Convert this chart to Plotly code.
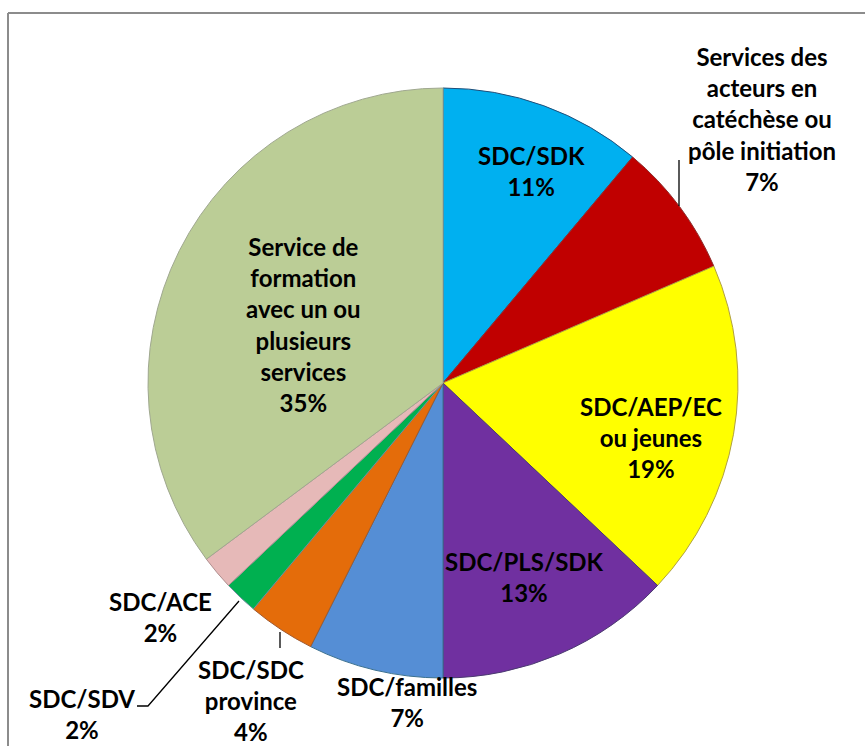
import plotly.graph_objects as go

labels = [
    "SDC/SDK",
    "Services des<br>acteurs en<br>catéchèse ou<br>pôle initiation",
    "SDC/AEP/EC<br>ou jeunes",
    "SDC/PLS/SDK",
    "SDC/familles",
    "SDC/SDC<br>province",
    "SDC/SDV",
    "SDC/ACE",
    "Service de<br>formation<br>avec un ou<br>plusieurs<br>services",
]
values = [6, 4, 10, 7, 4, 2, 1, 1, 19]
colors = ["#00B0F0", "#C00000", "#FFFF00", "#7030A0", "#558ED5",
          "#E46C0A", "#00B050", "#E6B9B8", "#BBCD96"]
line_colors = ["#1F4E79", "#8E3030", "#B0A040", "#4A3A70", "#3A7090",
               "#A05A30", "#7090A0", "#B09090", "#A0A890"]

W, H = 865, 746
cx, cy, r = 443, 383, 295

def px(x):
    return x / W

def py(y):
    return 1 - y / H

fig = go.Figure(go.Pie(
    labels=labels,
    values=values,
    sort=False,
    direction="clockwise",
    rotation=0,
    textinfo="none",
    hoverinfo="label+percent",
    marker=dict(colors=colors, line=dict(color=line_colors, width=1)),
    domain=dict(x=[px(cx - r), px(cx + r)], y=[py(cy + r), py(cy - r)]),
    showlegend=False,
))

total = sum(values)
pcts = [round(v / total * 100) for v in values]

# label centres (pixels)
label_pos = [
    (531, 171),
    (762, 119),
    (651, 438),
    (524, 577),
    (407, 702),
    (251, 700),
    (82, 714),
    (160, 617),
    (303, 325),
]

annotations = []
for lab, p, (x, y) in zip(labels, pcts, label_pos):
    annotations.append(dict(
        x=px(x), y=py(y), xref="paper", yref="paper",
        text=f"{lab}<br>{p}%", showarrow=False,
        xanchor="center", yanchor="middle", align="center",
        font=dict(family="Lato", size=24, color="black", weight="bold"),
    ))

shapes = [
    # frame
    dict(type="line", xref="paper", yref="paper", x0=px(8), x1=1.01, y0=py(13), y1=py(13),
         line=dict(color="#8C8C8C", width=2)),
    dict(type="line", xref="paper", yref="paper", x0=px(8), x1=px(8), y0=py(13), y1=-0.01,
         line=dict(color="#8C8C8C", width=2)),
    # leader lines
    dict(type="line", xref="paper", yref="paper", x0=px(679), x1=px(679), y0=py(160), y1=py(206),
         line=dict(color="black", width=1.3)),
    dict(type="line", xref="paper", yref="paper", x0=px(280), x1=px(280), y0=py(632), y1=py(648),
         line=dict(color="black", width=1.3)),
    dict(type="path", xref="paper", yref="paper",
         path=f"M {px(239)},{py(601)} L {px(148)},{py(706)} L {px(137)},{py(706)}",
         line=dict(color="black", width=1.3)),
]

fig.update_layout(
    width=W, height=H,
    margin=dict(l=0, r=0, t=0, b=0),
    paper_bgcolor="white",
    plot_bgcolor="white",
    annotations=annotations,
    shapes=shapes,
)

fig.write_html(
    "out.html",
    config={"displayModeBar": False},
    post_script="document.body.style.margin='0px';document.body.style.overflow='hidden';",
)
